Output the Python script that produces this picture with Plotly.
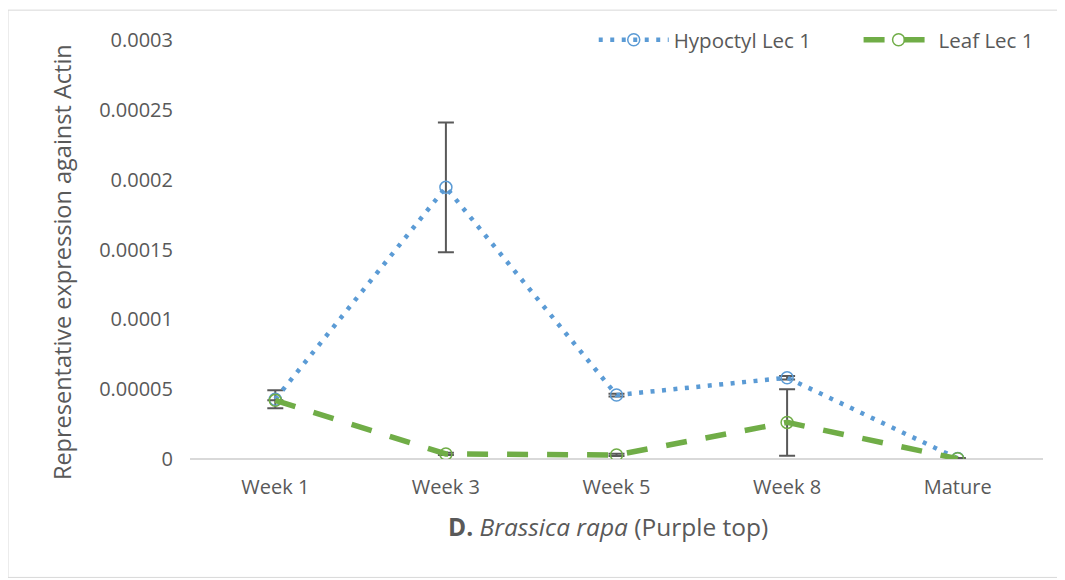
import plotly.graph_objects as go

categories = ["Week 1", "Week 3", "Week 5", "Week 8", "Mature"]

hypocotyl = [0.0000428, 0.0001945, 0.0000458, 0.0000582, 0.0000003]
hypocotyl_err = [0.0000064, 0.0000465, 0.0000010, 0.0000012, 0.0000004]

leaf = [0.0000420, 0.0000036, 0.0000029, 0.0000262, 0.0000002]
leaf_err = [0.0000000, 0.0000008, 0.0000008, 0.0000238, 0.0000003]

blue = "#5B9BD5"
green = "#70AD47"
err_col = "#595959"
text_col = "#595959"
font_family = "Open Sans"

fig = go.Figure()

# non-breaking spaces widen the gap between the two legend entries
fig.add_trace(go.Scatter(
    x=categories, y=hypocotyl, name="Hypoctyl Lec 1" + "\u00a0" * 8,
    mode="lines+markers",
    line=dict(color=blue, width=4.5, dash="4px,7.5px"),
    marker=dict(symbol="circle-open", size=12, color=blue, line=dict(width=1.5)),
    error_y=dict(type="data", array=hypocotyl_err, color=err_col, thickness=2, width=8),
))

fig.add_trace(go.Scatter(
    x=categories, y=leaf, name="Leaf Lec 1",
    mode="lines+markers",
    line=dict(color=green, width=5.5, dash="21px,19px"),
    marker=dict(symbol="circle-open", size=12, color=green, line=dict(width=1.5)),
    error_y=dict(type="data", array=leaf_err, color=err_col, thickness=2, width=8),
))

# page body adds an 8px offset, so the figure is 8px smaller each way
fig.update_layout(
    width=1057, height=572,
    paper_bgcolor="white", plot_bgcolor="white",
    margin=dict(l=182, r=22, t=30, b=121),
    font=dict(family=font_family, size=20, color=text_col),
    showlegend=True,
    legend=dict(
        orientation="h", x=0.995, xanchor="right", y=1.0, yanchor="middle",
        font=dict(size=20.5, color=text_col), bgcolor="rgba(0,0,0,0)",
        itemwidth=70, tracegroupgap=0,
    ),
    xaxis=dict(
        type="category", range=[-0.5, 4.5],
        showgrid=False, showline=False, ticks="",
        ticklabelstandoff=14,
        tickfont=dict(size=20, color=text_col),
    ),
    yaxis=dict(
        range=[0, 0.0003],
        tickvals=[0, 0.00005, 0.0001, 0.00015, 0.0002, 0.00025, 0.0003],
        ticktext=["0", "0.00005", "0.0001", "0.00015", "0.0002", "0.00025", "0.0003"],
        showgrid=False, zeroline=True, zerolinecolor="#D9D9D9", zerolinewidth=2,
        showline=False, ticks="", ticklabelstandoff=16,
        tickfont=dict(size=20, color=text_col),
    ),
    annotations=[
        dict(
            text="Representative expression against Actin",
            xref="paper", yref="paper", x=-0.150, y=0.470,
            xanchor="center", yanchor="middle", textangle=-90, showarrow=False,
            font=dict(size=23.5, color=text_col),
        ),
        dict(
            text="<b>D.</b> <i>Brassica rapa</i> (Purple top)",
            xref="paper", yref="paper", x=0.490, y=-0.1615,
            xanchor="center", yanchor="middle", showarrow=False,
            font=dict(size=24.5, color=text_col),
        ),
    ],
    shapes=[dict(
        type="rect", xref="paper", yref="paper",
        x0=-182 / 853, x1=1 + 19 / 853, y0=-119 / 421, y1=1 + 30 / 421,
        line=dict(color="#D9D9D9", width=1), fillcolor="rgba(0,0,0,0)",
    )],
)

fig.write_html("out.html")
